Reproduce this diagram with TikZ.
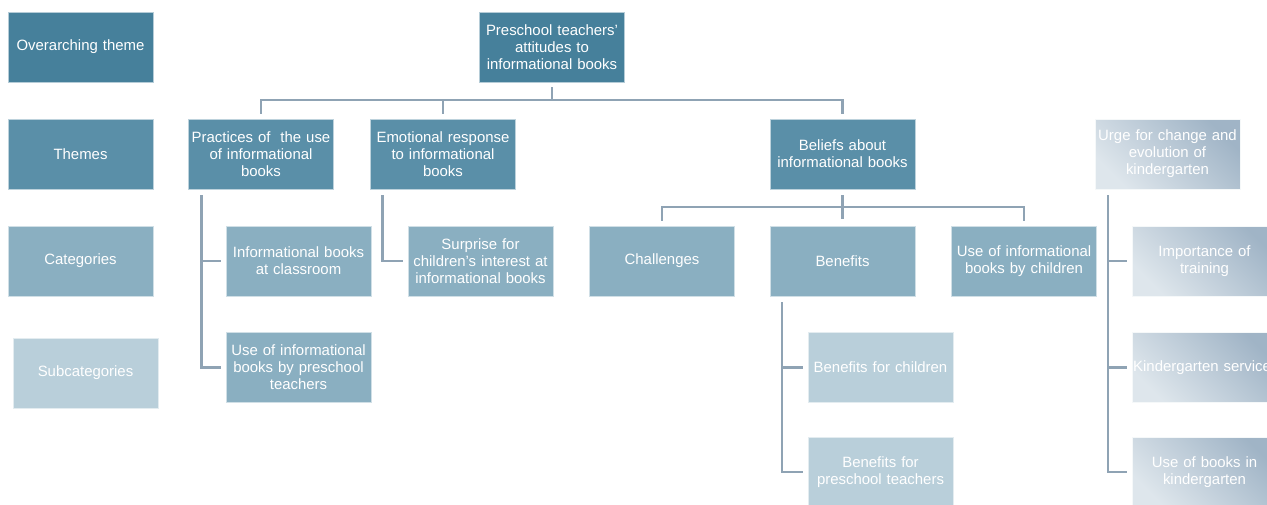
\documentclass[tikz,border=0pt]{standalone}
\usepackage{fontspec}
\setmainfont{Liberation Sans}
\usetikzlibrary{positioning,calc}
\definecolor{themedark}{RGB}{70,128,155}
\definecolor{thememid}{RGB}{90,143,168}
\definecolor{themecat}{RGB}{138,175,193}
\definecolor{themesub}{RGB}{185,207,218}
\definecolor{urgelight}{RGB}{222,230,236}
\definecolor{urgedark}{RGB}{160,180,198}
\definecolor{linkgrey}{RGB}{143,163,180}
\tikzset{
  level box/.style={
    draw=white!60!#1,
    fill=#1,
    line width=0.4pt,
    minimum width=108.5pt,
    minimum height=52.5pt,
    text width=107pt,
    inner sep=0.5pt,
    align=center,
    text=white,
    font=\fontsize{11.2}{12.75}\selectfont,
  },
  urge box/.style={
    draw=white!70!urgelight,
    line width=0.4pt,
    top color=urgelight,
    bottom color=urgedark,
    shading angle=135,
    minimum width=108.5pt,
    minimum height=52.5pt,
    text width=107pt,
    inner sep=0.5pt,
    align=center,
    text=white,
    font=\fontsize{11.2}{12.75}\selectfont,
  },
  link/.style={
    line width=2pt,
    draw=linkgrey,
  },
}

\begin{document}
\begin{tikzpicture}[x=0.75pt,y=-0.75pt]
  \clip (0,0) rectangle (1267,504);
  % legend column
  \node[level box=themedark] (lgover) at (80.5,47) {Overarching theme};
  \node[level box=thememid] (lgtheme) at (80.5,154) {Themes};
  \node[level box=themecat] (lgcat) at (80.5,261) {Categories};
  \node[level box=themesub] (lgsub) at (85.5,373) {Subcategories};

  % overarching theme and themes
  \node[level box=themedark] (root) at (552,47)
    {Preschool teachers'\\attitudes to\\informational books};
  \node[level box=thememid] (practices) at (261,154)
    {Practices of \ the use\\of informational\\books};
  \node[level box=thememid] (emotional) at (443,154)
    {Emotional response\\to informational\\books};
  \node[level box=thememid] (beliefs) at (842.5,154)
    {Beliefs about\\informational books};
  \node[urge box] (urge) at (1167.5,154)
    {Urge for change and\\evolution of\\kindergarten};

  % categories
  \node[level box=themecat] (infoclass) at (298.5,261)
    {Informational books\\at classroom};
  \node[level box=themecat] (useteachers) at (298.5,367.5)
    {Use of informational\\books by preschool\\teachers};
  \node[level box=themecat] (surprise) at (480.5,261)
    {Surprise for\\children’s interest at\\informational books};
  \node[level box=themecat] (challenges) at (662,261) {Challenges};
  \node[level box=themecat] (benefits) at (842.5,261) {Benefits};
  \node[level box=themecat] (usechildren) at (1024,261)
    {Use of informational\\books by children};
  \node[urge box] (training) at (1204.5,261) {Importance of\\training};
  \node[urge box] (services) at (1204.5,367.5)
    {\makebox[107pt][l]{Kindergarten services}};
  \node[urge box] (usebooks) at (1204.5,472) {Use of books in\\kindergarten};

  % subcategories
  \node[level box=themesub] (benchildren) at (880.5,367.5) {Benefits for children};
  \node[level box=themesub] (benteachers) at (880.5,472)
    {Benefits for\\preschool teachers};

  % connectors
  \coordinate (bustop) at (0,100);
  \coordinate (busbel) at (0,207);
  \draw[link] ($(root.south)+(0,5)$) -- (root.south |- bustop);
  \draw[link] ($(practices.north)+(0,-5)$) |- (beliefs.north |- bustop)
    -- ($(beliefs.north)+(0,-5)$);
  \draw[link] ($(emotional.north)+(0,-5)$) -- (emotional.north |- bustop);

  \draw[link] ($(beliefs.south)+(0,6)$) -- ($(beliefs.south)+(0,30)$);
  \draw[link] ($(challenges.north)+(0,-5)$) |- (usechildren.north |- busbel)
    -- ($(usechildren.north)+(0,-5)$);

  \foreach \c in {infoclass,useteachers}
    \draw[link] ($(practices.south west)+(13,6)$) |- ($(\c.west)+(-5,0)$);
  \draw[link] ($(emotional.south west)+(12,6)$) |- ($(surprise.west)+(-5,0)$);
  \foreach \c in {benchildren,benteachers}
    \draw[link] ($(benefits.south west)+(12,6)$) |- ($(\c.west)+(-5,0)$);
  \foreach \c in {training,services,usebooks}
    \draw[link] ($(urge.south west)+(13,6)$) |- ($(\c.west)+(-5,0)$);
\end{tikzpicture}
\end{document}
